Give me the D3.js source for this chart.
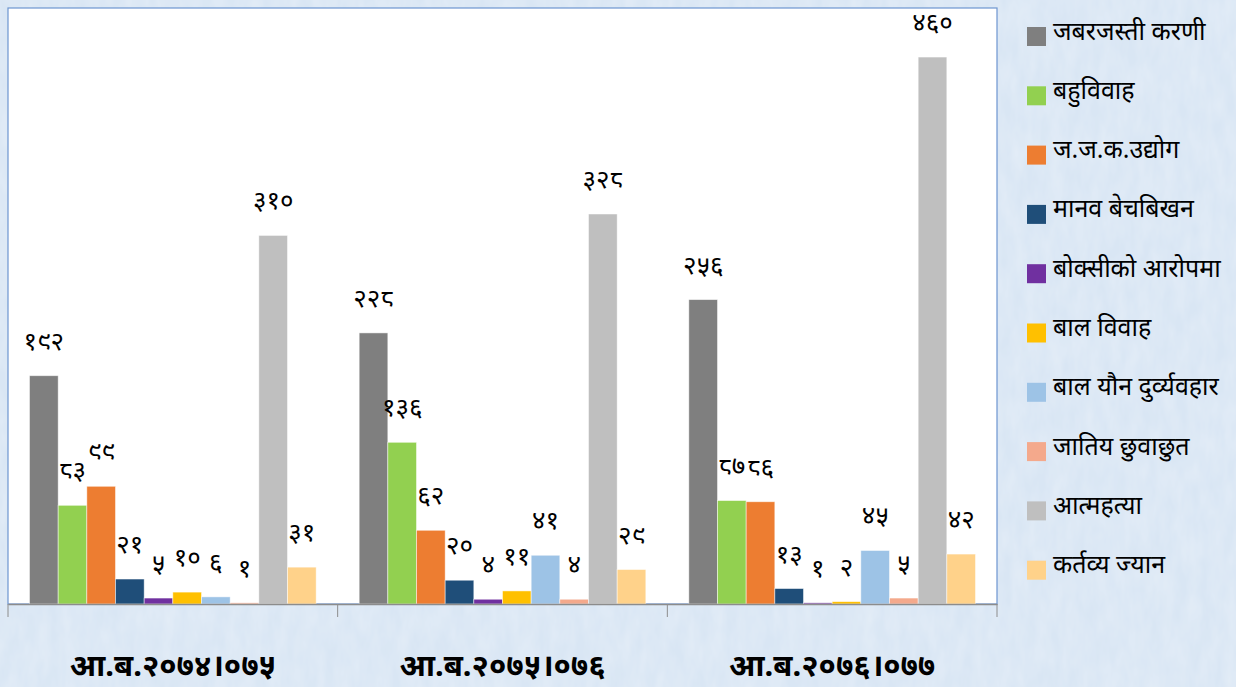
<!DOCTYPE html>
<html lang="ne">
<head>
    <meta charset="UTF-8">
    <title>Cases by type</title>
    <script src="https://cdn.jsdelivr.net/npm/d3@7"></script>
    <style>
        html, body { margin: 0; padding: 0; }
        body { width: 1236px; height: 687px; overflow: hidden; background: #dde9f6; }
        svg text { font-family: "Noto Sans", "Noto Sans Devanagari", sans-serif; }
    </style>
</head>
<body>
<div id="chart"></div>
<script>
    // data
    const years = ["आ.ब.२०७४।०७५", "आ.ब.२०७५।०७६", "आ.ब.२०७६।०७७"];
    const crimes = ["जबरजस्ती करणी", "बहुविवाह", "ज.ज.क.उद्योग", "मानव बेचबिखन", "बोक्सीको आरोपमा",
                    "बाल विवाह", "बाल यौन दुर्व्यवहार", "जातिय छुवाछुत", "आत्महत्या", "कर्तव्य ज्यान"];
    const v2074 = [192, 83, 99, 21, 5, 10, 6, 1, 310, 31];
    const v2075 = [228, 136, 62, 20, 4, 11, 41, 4, 328, 29];
    const v2076 = [256, 87, 86, 13, 1, 2, 45, 5, 460, 42];
    const colors = ["#7f7f7f", "#92d050", "#ed7d31", "#1f4e79", "#7030a0",
                    "#ffc000", "#9dc3e6", "#f4a98c", "#bfbfbf", "#ffd28a"];

    const allValues = [v2074, v2075, v2076];

    const W = 1236, H = 687;
    const plot = {left: 8, right: 997, top: 8, bottom: 604};

    // devanagari digits for labels
    const digits = "०१२३४५६७८९";
    const toNep = n => String(n).replace(/[0-9]/g, c => digits[+c]);

    const svg = d3.select("#chart").append("svg")
        .attr("width", W).attr("height", H);

    // mottled background
    const defs = svg.append("defs");
    const f = defs.append("filter").attr("id", "tex").attr("x", 0).attr("y", 0).attr("width", "100%").attr("height", "100%");
    f.append("feTurbulence").attr("type", "fractalNoise").attr("baseFrequency", "0.08 0.03").attr("numOctaves", 3).attr("seed", 4);
    f.append("feColorMatrix").attr("type", "matrix")
        .attr("values", "0 0 0 0 1  0 0 0 0 1  0 0 0 0 1  0 0 0 0.35 -0.08");

    svg.append("rect").attr("width", W).attr("height", H).attr("fill", "#d9e6f4");
    svg.append("rect").attr("width", W).attr("height", H).attr("filter", "url(#tex)");

    // plot area
    svg.append("rect")
        .attr("x", plot.left).attr("y", plot.top)
        .attr("width", plot.right - plot.left).attr("height", plot.bottom - plot.top)
        .attr("fill", "#ffffff")
        .attr("stroke", "#6d95d0").attr("stroke-width", 1.2);

    const x0 = d3.scaleBand().domain(years).range([plot.left, plot.right]).paddingInner(0).paddingOuter(0);
    const x1 = d3.scaleBand().domain(crimes).range([0, x0.bandwidth()]).paddingInner(0).paddingOuter(0.75);
    const y = d3.scaleLinear().domain([0, 500]).range([plot.bottom, plot.top + 1.5]);

    const rows = [];
    years.forEach((yr, gi) => {
        crimes.forEach((c, ci) => rows.push({year: yr, crime: c, value: allValues[gi][ci], color: colors[ci]}));
    });

    const g = svg.append("g");
    g.selectAll("rect.bar")
        .data(rows)
        .join("rect")
            .attr("class", "bar")
            .attr("x", d => x0(d.year) + x1(d.crime))
            .attr("y", d => y(d.value))
            .attr("width", x1.bandwidth())
            .attr("height", d => y(0) - y(d.value))
            .attr("fill", d => d.color)
            .attr("stroke", "rgba(255,255,255,0.6)")
            .attr("stroke-width", 0.8);

    g.selectAll("text.val")
        .data(rows)
        .join("text")
            .attr("class", "val")
            .attr("x", d => x0(d.year) + x1(d.crime) + x1.bandwidth() / 2)
            .attr("y", d => y(d.value) - 26)
            .attr("text-anchor", "middle")
            .attr("font-size", 26)
            .attr("fill", "#000")
            .text(d => toNep(d.value));

    // x axis
    const xAxis = svg.append("g")
        .attr("transform", `translate(0,${plot.bottom})`)
        .call(d3.axisBottom(x0).tickSize(0).tickFormat(""));
    xAxis.select(".domain").attr("stroke", "#8c8c8c").attr("stroke-width", 1.3);
    svg.append("g").selectAll("line")
        .data(years.map(d => x0(d)).concat([x0(years[2]) + x0.bandwidth()]))
        .join("line")
            .attr("x1", d => d).attr("x2", d => d)
            .attr("y1", plot.bottom).attr("y2", plot.bottom + 13)
            .attr("stroke", "#8c8c8c");

    svg.append("g").selectAll("text")
        .data(years)
        .join("text")
            .attr("x", d => x0(d) + x0.bandwidth() / 2)
            .attr("y", 676)
            .attr("text-anchor", "middle")
            .attr("font-size", 31)
            .attr("font-weight", "bold")
            .attr("fill", "#000")
            .text(d => d);

    // legend
    const legend = svg.append("g").attr("transform", "translate(1027,0)");
    const li = legend.selectAll("g")
        .data(crimes)
        .join("g")
            .attr("transform", (d, i) => `translate(0,${37 + i * 59.3})`);
    li.append("rect")
        .attr("x", 0).attr("y", -10)
        .attr("width", 19).attr("height", 19)
        .attr("fill", (d, i) => colors[i]);
    li.append("text")
        .attr("x", 26).attr("y", 0)
        .attr("dy", "0.1em")
        .attr("font-size", 25)
        .attr("fill", "#000")
        .text(d => d);
</script>
</body>
</html>
